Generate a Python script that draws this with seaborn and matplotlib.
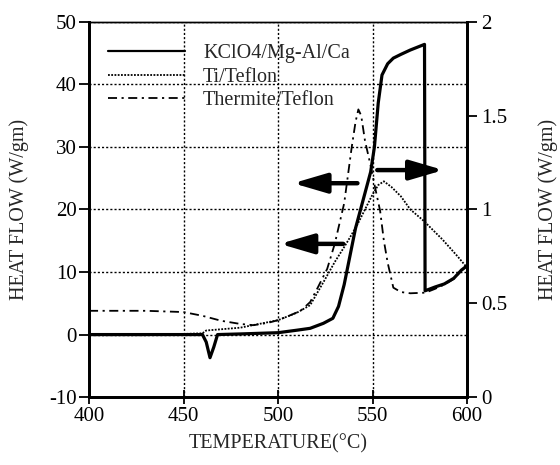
import numpy as np
import pandas as pd
import matplotlib
matplotlib.use("Agg")
import matplotlib.pyplot as plt
import seaborn as sns
from matplotlib.ticker import FuncFormatter
from matplotlib.lines import Line2D

# ---- data ----
kclo4_t = [400, 430, 460, 462, 464, 466, 468, 480, 500, 510, 517, 524, 529, 532, 535,
           538, 541, 545, 549, 551, 553, 555, 558, 561, 565, 570, 577.5,
           577.8, 583, 588, 593, 597, 600]
kclo4_v = [0, 0, 0, -1.2, -3.7, -2.0, 0.0, 0.1, 0.3, 0.7, 1.0, 1.8, 2.6, 4.5, 8.0,
           12.5, 17.0, 21.5, 26.0, 30.0, 37.0, 41.5, 43.3, 44.2, 44.8, 45.5, 46.4,
           7.0, 7.6, 8.1, 9.0, 10.3, 11.0]

thermite_t = [400, 430, 450, 460, 470, 480, 487, 495, 500, 505, 512, 517, 521, 526,
              530, 535, 539, 541, 542.5, 544, 546, 549, 551, 554, 556, 558, 561, 565,
              570, 578, 583, 588, 593, 597, 600]
thermite_v = [3.8, 3.8, 3.6, 3.0, 2.2, 1.7, 1.5, 1.9, 2.3, 2.9, 3.8, 5.2, 7.5, 10.5,
              14.5, 21.0, 30.0, 34.0, 36.0, 35.0, 31.0, 27.0, 24.0, 19.8, 15.0, 11.5,
              7.5, 6.8, 6.6, 6.7, 7.3, 8.0, 8.9, 10.2, 11.0]

ti_t = [400, 430, 460, 462, 480, 490, 500, 510, 517, 521, 525, 530, 535, 538, 542,
        546, 550, 553, 556, 560, 565, 570, 577, 587, 595, 600]
ti_v = [0.33, 0.33, 0.34, 0.355, 0.37, 0.39, 0.41, 0.45, 0.49, 0.56, 0.63, 0.72,
        0.80, 0.85, 0.92, 1.00, 1.08, 1.13, 1.15, 1.12, 1.07, 1.00, 0.94, 0.84,
        0.75, 0.69]

labels = ["KClO4/Mg-Al/Ca", "Ti/Teflon", "Thermite/Teflon"]
x_ticks = [400, 450, 500, 550, 600]
y_ticks = [-10, 0, 10, 20, 30, 40, 50]
y2_ticks = [0, 0.5, 1, 1.5, 2]

# ---- styling ----
sns.set_style("ticks")
plt.rcParams["font.family"] = ["Liberation Serif", "DejaVu Serif"]
plt.rcParams["axes.unicode_minus"] = False

fig = plt.figure(figsize=(5.6, 4.65), dpi=100)
ax = fig.add_axes([0.159, 0.146, 0.675, 0.807])
ax2 = ax.twinx()

df_k = pd.DataFrame({"t": kclo4_t, "v": kclo4_v})
df_th = pd.DataFrame({"t": thermite_t, "v": thermite_v})
df_ti = pd.DataFrame({"t": ti_t, "v": ti_v})

sns.lineplot(data=df_k, x="t", y="v", ax=ax, color="black", linewidth=2.3,
             sort=False, estimator=None, legend=False)
sns.lineplot(data=df_th, x="t", y="v", ax=ax, color="black", linewidth=1.3,
             sort=False, estimator=None, legend=False)
ax.lines[-1].set_linestyle((0, (5, 2.5, 1.2, 2.5)))
sns.lineplot(data=df_ti, x="t", y="v", ax=ax2, color="black", linewidth=1.3,
             sort=False, estimator=None, legend=False)
ax2.lines[-1].set_linestyle((0, (1, 0.8)))

ax.set_xlim(400, 600)
ax.set_ylim(-10, 50)
ax2.set_ylim(0, 2)
ax.set_xticks(x_ticks)
ax.set_yticks(y_ticks)
ax2.set_yticks(y2_ticks)
ax2.yaxis.set_major_formatter(FuncFormatter(lambda v, p: "%g" % v))

ax.grid(True, linestyle=(0, (1.5, 1.5)), color="black", linewidth=1.0)
ax.set_axisbelow(True)

fs = 15
ax.tick_params(axis="both", labelsize=fs, direction="out", length=7, width=1.3,
               colors="black", pad=2)
ax.tick_params(axis="x", direction="inout", length=10)
ax2.tick_params(axis="y", labelsize=fs, direction="out", length=7, width=1.3,
                colors="black")

ax.set_xlabel("TEMPERATURE(°C)", fontsize=14.5, labelpad=6)
ax.set_ylabel("HEAT FLOW (W/gm)", fontsize=14.5, labelpad=14)
ax2.set_ylabel("HEAT FLOW (W/gm)", fontsize=14.5, labelpad=22)

for a in (ax, ax2):
    for s in ("left", "right", "bottom"):
        a.spines[s].set_linewidth(2.0)
        a.spines[s].set_color("black")
    a.spines["top"].set_linewidth(1.0)
    a.spines["top"].set_color("black")

# legend
handles = [Line2D([], [], color="black", linewidth=1.6),
           Line2D([], [], color="black", linewidth=1.3, linestyle=(0, (1, 0.8))),
           Line2D([], [], color="black", linewidth=1.3, linestyle=(0, (5, 2.5, 1.2, 2.5)))]
leg = ax2.legend(handles, labels, loc="upper left", bbox_to_anchor=(0.03, 0.962),
                 frameon=False, handlelength=3.8, handletextpad=0.9,
                 labelspacing=0.22, borderaxespad=0, prop={"size": 14.5})

# arrows
arrow_kw = dict(arrowstyle="-|>,head_length=1.7,head_width=0.5", color="black",
                lw=3.2, shrinkA=0, shrinkB=0, mutation_scale=12)
ax.annotate("", xy=(508, 24.2), xytext=(542, 24.2), arrowprops=arrow_kw)
ax.annotate("", xy=(501, 14.5), xytext=(534.5, 14.5), arrowprops=arrow_kw)
ax.annotate("", xy=(587.5, 26.3), xytext=(552.5, 26.3), arrowprops=arrow_kw)

fig.savefig("out.png", dpi=100)
